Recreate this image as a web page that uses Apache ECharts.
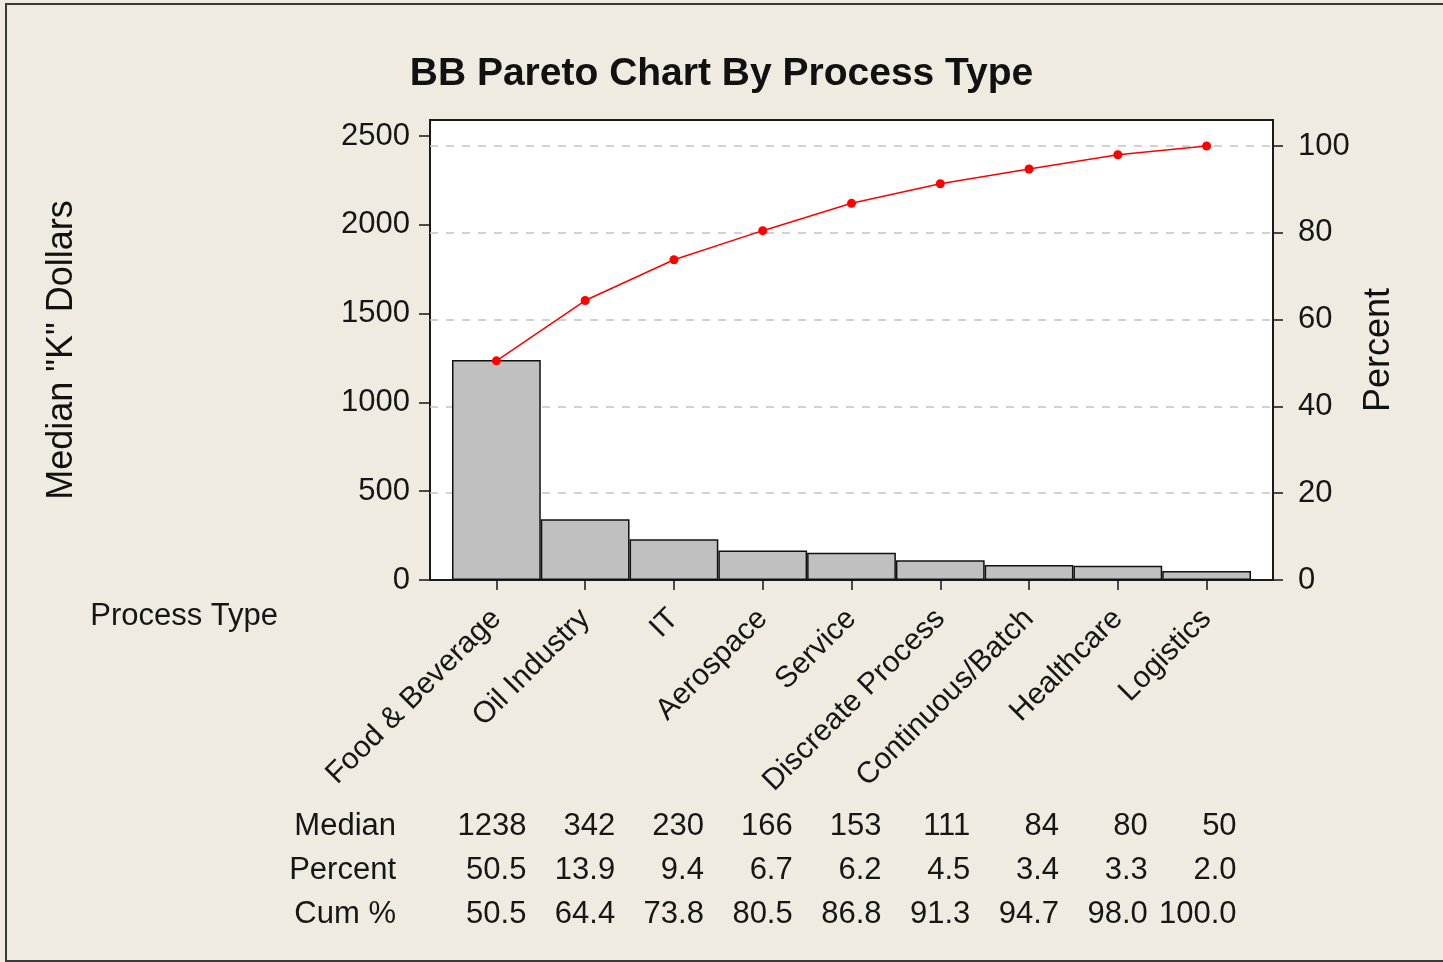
<!DOCTYPE html>
<html>
<head>
<meta charset="utf-8">
<title>BB Pareto Chart By Process Type</title>
<script src="https://cdn.jsdelivr.net/npm/echarts@6/dist/echarts.min.js"></script>
<style>
html,body{margin:0;padding:0;background:#efebe1;}
#diagram{width:1443px;height:962px;}
</style>
</head>
<body>
<div id="diagram"></div>
<script>
var categories = ['Food & Beverage','Oil Industry','IT','Aerospace','Service','Discreate Process','Continuous/Batch','Healthcare','Logistics'];
var medians = [1238,342,230,166,153,111,84,80,50];
var percents = ['50.5','13.9','9.4','6.7','6.2','4.5','3.4','3.3','2.0'];
var cumPercents = [50.5,64.4,73.8,80.5,86.8,91.3,94.7,98.0,100.0];
var leftTicks = [0,500,1000,1500,2000,2500];
var rightTicks = [0,20,40,60,80,100];

var leftMax = 2590;
var rightMax = 106;
var font = 'Liberation Sans';
var ink = '#161616';

// one row of the table under the chart, drawn as an extra category axis
function tableAxis(name, values, offset){
	return {
		type:'category',
		gridIndex:1,
		position:'bottom',
		offset:offset,
		data:values,
		axisLine:{show:false,onZero:false},
		axisTick:{show:false},
		axisLabel:{
			interval:0,
			margin:0,
			verticalAlign:'top',
			formatter:function(v){ return '{v|' + v + '}'; },
			rich:{v:{width:60,align:'right',fontFamily:font,fontSize:31,color:ink}}
		},
		name:name,
		nameLocation:'start',
		nameGap:56,
		nameTextStyle:{align:'right',verticalAlign:'top',fontFamily:font,fontSize:31,color:ink}
	};
}

var option = {
	backgroundColor:'#efebe1',
	animation:false,
	title:{
		text:'BB Pareto Chart By Process Type',
		left:'center',
		top:50,
		textStyle:{fontFamily:font,fontWeight:'bold',fontSize:39,color:'#111'}
	},
	graphic:[{
		type:'rect',
		shape:{x:6,y:4,width:1460,height:957},
		style:{fill:'none',stroke:'#3a3a3a',lineWidth:2},
		silent:true
	}],
	grid:[
		{left:430,right:170,top:120,bottom:382,show:true,backgroundColor:'#ffffff',borderColor:'#1a1a1a',borderWidth:2},
		{left:452,right:192,top:120,bottom:382}
	],
	xAxis:[
		{type:'value',gridIndex:0,show:false,min:0,max:1},
		{
			type:'category',
			gridIndex:1,
			position:'bottom',
			data:categories,
			boundaryGap:true,
			axisLine:{show:false,onZero:false},
			axisTick:{show:true,alignWithLabel:true,length:10,lineStyle:{color:ink,width:1.5}},
			axisLabel:{interval:0,rotate:45,margin:34,verticalAlign:'middle',fontFamily:font,fontSize:30,color:ink},
			name:'Process Type',
			nameLocation:'start',
			nameGap:174,
			nameTextStyle:{align:'right',verticalAlign:'top',padding:[21,0,0,0],fontFamily:font,fontSize:31,color:ink}
		},
		tableAxis('Median', medians.map(String), 231),
		tableAxis('Percent', percents, 275),
		tableAxis('Cum %', cumPercents.map(function(v){ return v.toFixed(1); }), 319)
	],
	yAxis:[
		{
			type:'value',
			gridIndex:0,
			position:'left',
			min:0,
			max:leftMax,
			interval:500,
			axisLine:{show:false,onZero:false},
			axisTick:{show:true,length:11,customValues:leftTicks,lineStyle:{color:ink,width:1.5}},
			axisLabel:{customValues:leftTicks,margin:20,formatter:function(v){ return String(v); },fontFamily:font,fontSize:31,color:ink},
			splitLine:{show:false},
			name:'Median "K" Dollars',
			nameLocation:'middle',
			nameGap:350,
			nameRotate:90,
			nameTextStyle:{fontFamily:font,fontSize:36,color:'#111'}
		},
		{
			type:'value',
			gridIndex:0,
			position:'right',
			min:0,
			max:rightMax,
			interval:20,
			axisLine:{show:false,onZero:false},
			axisTick:{show:true,length:10,customValues:rightTicks,lineStyle:{color:ink,width:1.5}},
			axisLabel:{customValues:rightTicks,margin:25,fontFamily:font,fontSize:31,color:ink},
			splitLine:{show:true,showMinLine:false,lineStyle:{type:[8,8],color:'#c4c4c4',width:1.5}},
			name:'Percent',
			nameLocation:'middle',
			nameGap:85,
			nameRotate:90,
			nameTextStyle:{fontFamily:font,fontSize:36,color:'#111'}
		},
		{type:'value',gridIndex:1,show:false,min:0,max:leftMax,axisLine:{onZero:false},splitLine:{show:false}},
		{type:'value',gridIndex:1,show:false,min:0,max:rightMax,axisLine:{onZero:false},splitLine:{show:false}}
	],
	series:[
		{
			type:'bar',
			xAxisIndex:1,
			yAxisIndex:2,
			barCategoryGap:'0%',
			itemStyle:{color:'#c0c0c0',borderColor:'#111',borderWidth:1.5},
			data:medians
		},
		{
			type:'line',
			xAxisIndex:1,
			yAxisIndex:3,
			symbol:'circle',
			symbolSize:9,
			lineStyle:{color:'#ff0000',width:1.5},
			itemStyle:{color:'#ff0000'},
			data:cumPercents,
			z:5
		}
	]
};

var myChart = echarts.init(document.getElementById('diagram'));
myChart.setOption(option);
</script>
</body>
</html>
